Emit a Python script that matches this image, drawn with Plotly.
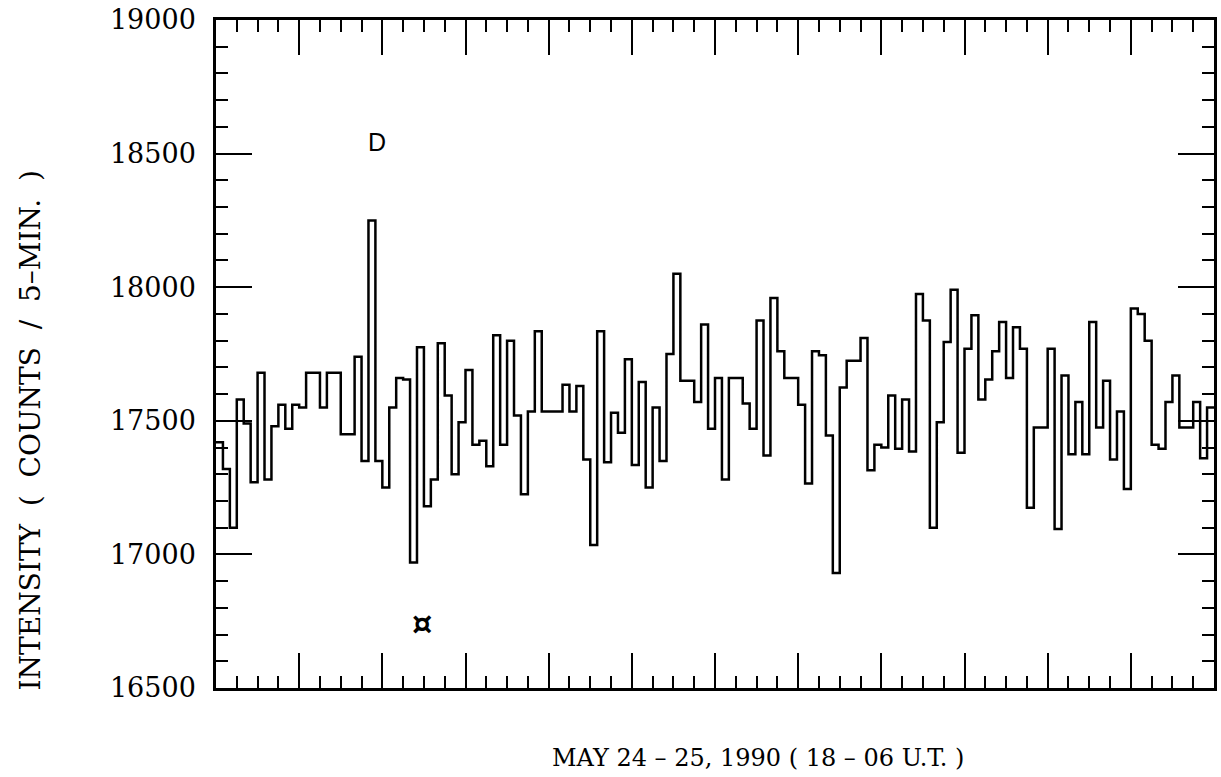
import plotly.graph_objects as go

# ---- data ----
bin_minutes = 5                      # 5-minute bins, 18 UT -> 06 UT
intensity = [
    17420, 17320, 17100, 17580, 17490, 17270, 17680, 17280, 17480, 17560,
    17470, 17560, 17550, 17680, 17680, 17550, 17680, 17680, 17450, 17450,
    17740, 17350, 18250, 17350, 17250, 17550, 17660, 17655, 16970, 17775,
    17180, 17280, 17790, 17595, 17300, 17495, 17690, 17410, 17425, 17330,
    17820, 17410, 17800, 17520, 17225, 17535, 17835, 17535, 17535, 17535,
    17635, 17535, 17630, 17355, 17035, 17835, 17345, 17530, 17455, 17730,
    17335, 17645, 17250, 17550, 17350, 17750, 18050, 17650, 17650, 17570,
    17860, 17470, 17660, 17280, 17660, 17660, 17565, 17470, 17875, 17370,
    17960, 17760, 17660, 17660, 17560, 17265, 17760, 17745, 17445, 16930,
    17625, 17725, 17725, 17810, 17315, 17410, 17400, 17595, 17395, 17580,
    17385, 17975, 17875, 17100, 17495, 17795, 17990, 17380, 17770, 17895,
    17580, 17655, 17760, 17870, 17660, 17850, 17770, 17175, 17475, 17475,
    17770, 17095, 17670, 17375, 17570, 17375, 17870, 17475, 17650, 17355,
    17535, 17245, 17920, 17900, 17800, 17410, 17395, 17570, 17670, 17475,
    17475, 17570, 17360, 17550,
]
y_tick_values = [16500, 17000, 17500, 18000, 18500, 19000]
y_tick_labels = ["16500", "17000", "17500", "18000", "18500", "19000"]
x_title = "MAY 24 \u2013 25, 1990 ( 18 \u2013 06 U.T. )"
y_title = "INTENSITY ( COUNTS / 5\u2013MIN. )"
label_D = ("D", 1.94, 18545)          # text, hours after 18 UT, counts
label_star = ("\u00a4", 2.48, 16745)

# ---- build ----
hours = [i * bin_minutes / 60 for i in range(len(intensity) + 1)]
yvals = intensity + [intensity[-1]]

fig = go.Figure()
fig.add_trace(go.Scatter(
    x=hours, y=yvals, mode="lines", line_shape="hv",
    line=dict(color="black", width=2.5), showlegend=False,
    hoverinfo="skip",
))

fig.add_annotation(x=label_D[1], y=label_D[2], text=label_D[0], showarrow=False,
                   font=dict(family="Liberation Sans", size=25, color="black"))
fig.add_annotation(x=label_star[1], y=label_star[2], text="<b>" + label_star[0] + "</b>",
                   showarrow=False,
                   font=dict(family="DejaVu Sans", size=32, color="black"))

sp = "\u00a0\u00a0"
fig.add_annotation(xref="paper", yref="paper", x=-0.186, y=0.386,
                   text=y_title.replace(" ", sp), textangle=-90, showarrow=False,
                   xanchor="center", yanchor="middle",
                   font=dict(family="DejaVu Serif", size=28, color="black"))
fig.add_annotation(xref="paper", yref="paper", x=0.543, y=-0.105,
                   text=x_title, showarrow=False,
                   xanchor="center", yanchor="middle",
                   font=dict(family="DejaVu Serif", size=24, color="black"))

fig.update_xaxes(
    range=[0, 12], showgrid=False, zeroline=False,
    showline=True, linecolor="black", linewidth=2.5, mirror="ticks",
    ticks="inside", tickmode="linear", tick0=0, dtick=1,
    ticklen=35, tickwidth=2.2, tickcolor="black",
    minor=dict(ticks="inside", dtick=0.25, ticklen=12, tickwidth=2, tickcolor="black"),
    showticklabels=False,
)
fig.update_yaxes(
    range=[16500, 19000], showgrid=False, zeroline=False,
    showline=True, linecolor="black", linewidth=2.5, mirror="ticks",
    ticks="inside", tickmode="array", tickvals=y_tick_values, ticktext=y_tick_labels,
    ticklen=36, tickwidth=2.2, tickcolor="black",
    minor=dict(ticks="inside", dtick=100, ticklen=12, tickwidth=2, tickcolor="black"),
    tickfont=dict(family="DejaVu Serif", size=27, color="black"),
    ticklabelstandoff=12,
)
fig.update_layout(
    width=1221, height=777,
    margin=dict(l=216, r=4, t=20, b=89),
    paper_bgcolor="white", plot_bgcolor="white",
)
fig.write_html("out.html")
